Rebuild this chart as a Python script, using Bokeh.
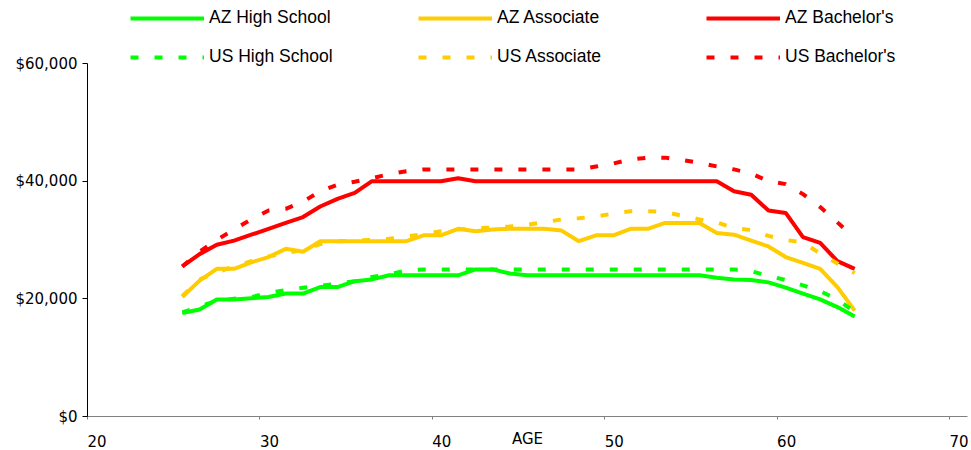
from bokeh.plotting import figure
from bokeh.models import FixedTicker, NumeralTickFormatter, Legend, LegendItem, Range1d
from bokeh.embed import file_html
from bokeh.resources import INLINE

# ---------------- data ----------------
AGES = [25.5, 26.5, 27.5, 28.5, 29.5, 30.5, 31.5, 32.5, 33.5, 34.5,
        35.5, 36.5, 37.5, 38.5, 39.5, 40.5, 41.5, 42.5, 43.5, 44.5,
        45.5, 46.5, 47.5, 48.5, 49.5, 50.5, 51.5, 52.5, 53.5, 54.5,
        55.5, 56.5, 57.5, 58.5, 59.5, 60.5, 61.5, 62.5, 63.5, 64.5]

AZ_HIGH_SCHOOL = [17600, 18200, 19900, 19900, 20100, 20300, 20900, 20900, 22000, 22000,
                  23000, 23300, 24000, 24000, 24000, 24000, 24000, 25000, 25000, 24300,
                  24000, 24000, 24000, 24000, 24000, 24000, 24000, 24000, 24000, 24000,
                  24000, 23600, 23300, 23200, 22800, 21900, 20900, 19900, 18600, 17000]

US_HIGH_SCHOOL = [17700, 18700, 19700, 20000, 20300, 21000, 21500, 21900, 22200, 22600,
                  23000, 23700, 24200, 24800, 25000, 25000, 25000, 25000, 25000, 25000,
                  25000, 25000, 25000, 25000, 25000, 25000, 25000, 25000, 25000, 25000,
                  25000, 25000, 25000, 24700, 23900, 23200, 22300, 21300, 19900, 17800]

AZ_ASSOCIATE = [20300, 23100, 25100, 25100, 26200, 27100, 28500, 28000, 29800, 29800,
                29800, 29800, 29800, 29800, 30800, 30800, 31900, 31500, 31800, 31900,
                31900, 31900, 31600, 29800, 30800, 30800, 31900, 31900, 32900, 32900,
                32900, 31200, 30900, 29900, 28900, 27100, 26100, 25100, 22000, 18000]

US_ASSOCIATE = [20500, 23300, 24500, 25500, 26400, 27200, 27800, 28300, 29300, 29800,
                29900, 30000, 30200, 30600, 31000, 31500, 31800, 32000, 32100, 32300,
                32600, 33000, 33500, 33700, 34000, 34500, 34900, 34900, 34800, 34100,
                33500, 33000, 32000, 31700, 30700, 30000, 29600, 27700, 26000, 24400]

AZ_BACHELORS = [25500, 27600, 29200, 29900, 30900, 31900, 32900, 33900, 35700, 37000,
                38000, 40000, 40000, 40000, 40000, 40000, 40500, 40000, 40000, 40000,
                40000, 40000, 40000, 40000, 40000, 40000, 40000, 40000, 40000, 40000,
                40000, 40000, 38300, 37700, 35000, 34600, 30500, 29500, 26400, 25100]

US_BACHELORS = [25500, 28000, 30000, 31800, 33500, 35000, 35300, 36500, 38300, 39400,
                39900, 40500, 41200, 41700, 42000, 42000, 42000, 42000, 42000, 42000,
                42000, 42000, 42000, 42000, 42500, 43000, 43700, 44000, 44000, 43600,
                43100, 42500, 42000, 41300, 40000, 39500, 37800, 35600, 33000, 30300]

X_TICKS = [20, 30, 40, 50, 60, 70]
Y_TICKS = [0, 20000, 40000, 60000]
X_TITLE = "AGE"

# ---------------- layout ----------------
W, H = 971, 450
FRAME_L, FRAME_R = 87, 967
FRAME_T, FRAME_B = 0, 416
PX_PER_YEAR = 17.24
PX_PER_60K = 353.0

x_end = 20 + (FRAME_R - FRAME_L) / PX_PER_YEAR
y_end = 60000 * (FRAME_B - FRAME_T) / PX_PER_60K

p = figure(width=W, height=H, output_backend="svg", toolbar_location=None,
           x_range=Range1d(20, x_end), y_range=Range1d(0, y_end),
           min_border_left=FRAME_L, min_border_right=W - FRAME_R,
           min_border_top=FRAME_T, min_border_bottom=H - FRAME_B)
p.outline_line_color = None
p.xgrid.visible = False
p.ygrid.visible = False
p.background_fill_color = "white"
p.border_fill_color = "white"

GREEN, YELLOW, RED = "#00FF00", "#FFCC00", "#FF0000"
LW = 4
DASH = "8 16"

r_az_hs = p.line(AGES, AZ_HIGH_SCHOOL, line_color=GREEN, line_width=LW)
r_az_as = p.line(AGES, AZ_ASSOCIATE, line_color=YELLOW, line_width=LW)
r_az_ba = p.line(AGES, AZ_BACHELORS, line_color=RED, line_width=LW)
r_us_hs = p.line(AGES, US_HIGH_SCHOOL, line_color=GREEN, line_width=LW, line_dash=DASH)
r_us_as = p.line(AGES, US_ASSOCIATE, line_color=YELLOW, line_width=LW, line_dash=DASH)
r_us_ba = p.line(AGES, US_BACHELORS, line_color=RED, line_width=LW, line_dash=DASH)

# axes
xa = p.xaxis[0]
xa.ticker = FixedTicker(ticks=X_TICKS)
xa.axis_line_color = "#808080"
xa.major_tick_line_color = "#808080"
xa.major_tick_in = 0
xa.major_tick_out = 3
xa.minor_tick_line_color = None
xa.major_label_standoff = 21
xa.major_label_orientation = -0.0001   # tiny angle -> labels start at the tick
xa.major_label_text_font = "DejaVu Sans"
xa.major_label_text_font_size = "15px"
xa.major_label_text_color = "#000000"
xa.axis_label = X_TITLE
xa.axis_label_standoff = -26
xa.axis_label_text_font = "DejaVu Sans"
xa.axis_label_text_font_size = "15px"
xa.axis_label_text_font_style = "normal"
xa.axis_label_text_color = "#000000"

ya = p.yaxis[0]
ya.ticker = FixedTicker(ticks=Y_TICKS)
ya.bounds = (0, 60000)
ya.formatter = NumeralTickFormatter(format="$0,0")
ya.axis_line_color = "#000000"
ya.major_tick_line_color = "#000000"
ya.major_tick_in = 0
ya.major_tick_out = 5
ya.minor_tick_line_color = None
ya.major_label_standoff = 5
ya.major_label_text_font = "DejaVu Sans"
ya.major_label_text_font_size = "15px"
ya.major_label_text_color = "#000000"

# legends (two rows of three)
def make_legend(items, y_loc):
    return Legend(items=items, orientation="horizontal", location=(43, y_loc),
                  glyph_width=74, glyph_height=20, label_height=20, label_width=205,
                  label_standoff=5, spacing=4, padding=0, margin=0,
                  border_line_alpha=0, background_fill_alpha=0,
                  label_text_font="Liberation Sans", label_text_font_size="17.5px",
                  label_text_color="#000000")

lg1 = make_legend([LegendItem(label="AZ High School", renderers=[r_az_hs]),
                   LegendItem(label="AZ Associate", renderers=[r_az_as]),
                   LegendItem(label="AZ Bachelor's", renderers=[r_az_ba])], 388)
lg2 = make_legend([LegendItem(label="US High School", renderers=[r_us_hs]),
                   LegendItem(label="US Associate", renderers=[r_us_as]),
                   LegendItem(label="US Bachelor's", renderers=[r_us_ba])], 349)
p.add_layout(lg1)
p.add_layout(lg2)

open("out.html", "w").write(file_html(p, INLINE))
